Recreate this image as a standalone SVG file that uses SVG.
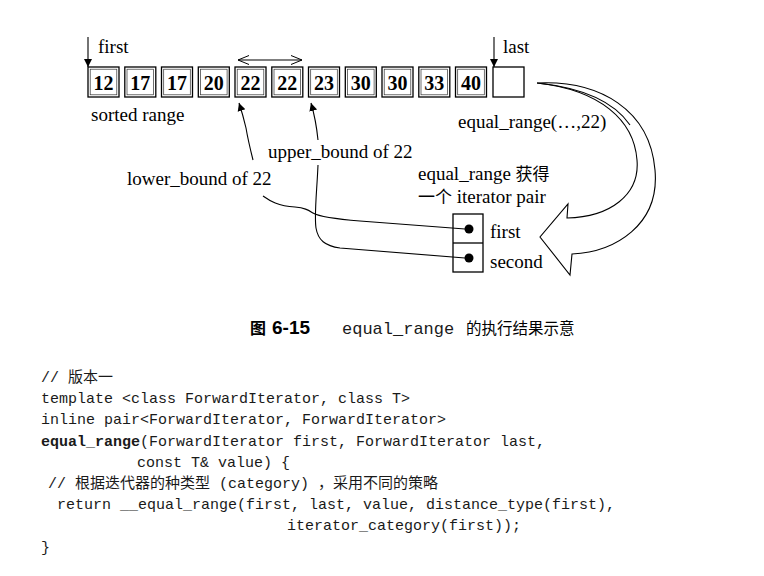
<svg xmlns="http://www.w3.org/2000/svg" width="764" height="576" viewBox="0 0 764 576">
<style>
.bg{fill:#fff}
.box{fill:none;stroke:#000;stroke-width:1.3}
.inner{fill:none;stroke:#333;stroke-width:0.7}
.num{font-family:"Liberation Serif",serif;font-weight:bold;font-size:20px;text-anchor:middle;fill:#000}
.lbl{font-family:"Liberation Serif","Noto Sans CJK SC",serif;font-size:19px;fill:#000}
.ln{fill:none;stroke:#000;stroke-width:1.1}
.code{font-family:"Liberation Mono","Noto Sans CJK SC",monospace;font-size:15px;fill:#1a1a1a;white-space:pre}
.cjk{font-family:"Noto Sans CJK SC",sans-serif;fill:#000}
</style>
<defs>
<marker id="fill" viewBox="0 0 10 10" refX="10" refY="5" markerWidth="8" markerHeight="10" markerUnits="userSpaceOnUse" orient="auto"><path d="M0,0 L10,5 L0,10 Z" fill="#000"/></marker>
<marker id="open" viewBox="0 0 12 10" refX="11" refY="5" markerWidth="12" markerHeight="10" markerUnits="userSpaceOnUse" orient="auto-start-reverse"><path d="M0,0.5 L11,5 L0,9.5" fill="none" stroke="#000" stroke-width="1"/></marker>
</defs>
<rect class="bg" x="0" y="0" width="764" height="576"/>

<g id="range">
<g id="b0"><rect class="box" x="88" y="67" width="31" height="30"/><rect class="inner" x="90.2" y="69.2" width="26.6" height="25.6"/><text class="num" x="103.5" y="89.5">12</text></g>
<g id="b1"><rect class="box" x="124.8" y="67" width="31" height="30"/><rect class="inner" x="127" y="69.2" width="26.6" height="25.6"/><text class="num" x="140.3" y="89.5">17</text></g>
<g id="b2"><rect class="box" x="161.5" y="67" width="31" height="30"/><rect class="inner" x="163.7" y="69.2" width="26.6" height="25.6"/><text class="num" x="177" y="89.5">17</text></g>
<g id="b3"><rect class="box" x="198.3" y="67" width="31" height="30"/><rect class="inner" x="200.5" y="69.2" width="26.6" height="25.6"/><text class="num" x="213.8" y="89.5">20</text></g>
<g id="b4"><rect class="box" x="235" y="67" width="31" height="30"/><rect class="inner" x="237.2" y="69.2" width="26.6" height="25.6"/><text class="num" x="250.5" y="89.5">22</text></g>
<g id="b5"><rect class="box" x="271.8" y="67" width="31" height="30"/><rect class="inner" x="274" y="69.2" width="26.6" height="25.6"/><text class="num" x="287.3" y="89.5">22</text></g>
<g id="b6"><rect class="box" x="308.5" y="67" width="31" height="30"/><rect class="inner" x="310.7" y="69.2" width="26.6" height="25.6"/><text class="num" x="324" y="89.5">23</text></g>
<g id="b7"><rect class="box" x="345.3" y="67" width="31" height="30"/><rect class="inner" x="347.5" y="69.2" width="26.6" height="25.6"/><text class="num" x="360.8" y="89.5">30</text></g>
<g id="b8"><rect class="box" x="382" y="67" width="31" height="30"/><rect class="inner" x="384.2" y="69.2" width="26.6" height="25.6"/><text class="num" x="397.5" y="89.5">30</text></g>
<g id="b9"><rect class="box" x="418.8" y="67" width="31" height="30"/><rect class="inner" x="421" y="69.2" width="26.6" height="25.6"/><text class="num" x="434.3" y="89.5">33</text></g>
<g id="b10"><rect class="box" x="455.5" y="67" width="31" height="30"/><rect class="inner" x="457.7" y="69.2" width="26.6" height="25.6"/><text class="num" x="471" y="89.5">40</text></g>
<g id="b11"><rect class="box" x="493" y="67" width="31" height="30"/></g>
</g>

<g id="pair">
<rect class="box" x="453" y="214" width="30" height="58"/>
<line class="box" x1="453" y1="243" x2="483" y2="243"/>
<circle cx="469" cy="229" r="4.5" fill="#000"/>
<circle cx="469" cy="258" r="4.5" fill="#000"/>
<text class="lbl" x="490" y="238">first</text>
<text class="lbl" x="490" y="268">second</text>
</g>

<g id="labels">
<text class="lbl" x="98" y="53">first</text>
<text class="lbl" x="503" y="53">last</text>
<text class="lbl" x="91" y="121">sorted range</text>
<text class="lbl" x="458" y="128">equal_range(…,22)</text>
<text class="lbl" x="268" y="158">upper_bound of 22</text>
<text class="lbl" x="127" y="185">lower_bound of 22</text>
<text class="lbl" x="418" y="180">equal_range <tspan font-size="17">获得</tspan></text>
<text class="lbl" x="418" y="203"><tspan font-size="17">一个</tspan> iterator pair</text>
</g>

<g id="connectors">
<line class="ln" x1="88" y1="37" x2="88" y2="67" marker-end="url(#fill)"/>
<line class="ln" x1="494" y1="37" x2="494" y2="67" marker-end="url(#fill)"/>
<line class="ln" x1="238" y1="60" x2="302" y2="60" marker-start="url(#open)" marker-end="url(#open)"/>
<path class="ln" d="M253,160 Q248,140 246,128 Q243,115 239,103" marker-end="url(#fill)"/>
<path class="ln" d="M318,140 Q316,120 311,103" marker-end="url(#fill)"/>
<path class="ln" d="M318,165 C317,190 314,215 316,228 C318,240 325,246 340,248 L465,258"/>
<path class="ln" d="M263,196 C270,201 278,206 295,207 C305,208 308,210 313,213 C320,217 335,219 360,221 L465,229"/>
<path class="ln" d="M537,83 C600,80 650,110 655,170 C660,225 615,252 572,254 L570,275 L540,237 L568,204 L567,218 C610,217 640,195 637,160 C634,120 600,90 537,83 Z" fill="#fff"/>
<path class="ln" d="M537,83 C585,88 615,103 630,125"/>
</g>

<g id="caption">
<text class="cjk" x="250" y="334" font-size="16" font-weight="bold">图</text>
<text x="272" y="334" font-family="Liberation Sans,sans-serif" font-weight="bold" font-size="19">6-15</text>
<text x="342" y="334" font-family="Liberation Mono,monospace" font-size="17" fill="#1a1a1a">equal_range</text>
<text class="cjk" x="466" y="334" font-size="15.5">的执行结果示意</text>
</g>

<g id="code">
<text class="code" x="41" y="382">// <tspan font-family="Noto Sans CJK SC">版本一</tspan></text>
<text class="code" x="41" y="403">template &lt;class ForwardIterator, class T&gt;</text>
<text class="code" x="41" y="424">inline pair&lt;ForwardIterator, ForwardIterator&gt;</text>
<text class="code" x="41" y="446"><tspan font-weight="bold">equal_range</tspan>(ForwardIterator first, ForwardIterator last,</text>
<text class="code" x="137" y="467">const T&amp; value) {</text>
<text class="code" x="48" y="488">// <tspan font-family="Noto Sans CJK SC">根据迭代器的种类型</tspan> (category) <tspan font-family="Noto Sans CJK SC">，采用不同的策略</tspan></text>
<text class="code" x="57" y="509">return __equal_range(first, last, value, distance_type(first),</text>
<text class="code" x="287" y="530">iterator_category(first));</text>
<text class="code" x="41" y="552">}</text>
</g>
</svg>
